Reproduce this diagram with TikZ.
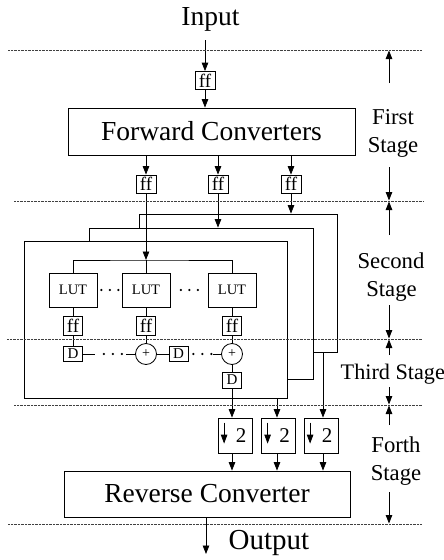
\documentclass[tikz,border=0pt]{standalone}
\usepackage{fontspec}
\setmainfont{Liberation Serif}
\usetikzlibrary{arrows.meta,calc}
\begin{document}
\begin{tikzpicture}[x=1pt,y=-1pt,line width=0.8pt,
  box/.style={draw,fill=white,inner sep=0pt},
  arr/.style={-{Triangle[length=8.5pt,width=6.5pt]}},
  sep/.style={line width=0.8pt,dash pattern=on 0.7pt off 0.7pt,black!75},
  bigf/.style={font=\fontsize{27.5}{30}\selectfont},
  stg/.style={font=\fontsize{22.7}{26}\selectfont,anchor=base},
  fff/.style={box,minimum width=20,minimum height=18,font=\fontsize{19}{19}\selectfont},
  lut/.style={box,minimum width=48,minimum height=34,font=\fontsize{14.5}{16}\selectfont},
  dbox/.style={box,minimum width=19,minimum height=15,font=\fontsize{15}{16}\selectfont},
  sumc/.style={draw,fill=white,circle,minimum size=21,inner sep=0pt,font=\fontsize{14}{16}\selectfont},
  dec/.style={box,minimum width=34,minimum height=35,font=\fontsize{21}{22}\selectfont},
  dotrow/.style={line width=2.4pt,line cap=round,dash pattern=on 0pt off #1},
  dotrow/.default=8.5pt
]
\useasboundingbox (0,0) rectangle (444,560);

% ---- top
\node[bigf,anchor=base] (inp) at (210.5,25) {Input};
\coordinate (inS) at (205,40);
\node[fff] (f0) at (205,80.5) {ff};
\node[box,bigf,minimum width=287,minimum height=47] (fc) at (211.5,131.5) {Forward Converters};
\node[fff] (f1) at (146,184) {ff};
\node[fff] (f2) at (218,184) {ff};
\node[fff] (f3) at (291,184) {ff};

\draw[arr] (inS) -- (f0.north);
\draw[arr] (f0.south) -- (fc.north -| f0);
\draw[arr] (fc.south -| f1) -- (f1.north);
\draw[arr] (fc.south -| f2) -- (f2.north);
\draw[arr] (fc.south -| f3) -- (f3.north);

% ---- stacked channel boxes
\node[box,minimum width=198,minimum height=138] (bk) at (238,283) {};
\node[box,minimum width=224,minimum height=151] (md) at (201,303.5) {};
\node[box,minimum width=263,minimum height=157] (fr) at (155.5,319.5) {};

\coordinate (bus) at (146,260);
\node[lut] (l1) at (73,290) {LUT};
\node[lut] (l2) at (146,290) {LUT};
\node[lut] (l3) at (232,290) {LUT};
\node[fff,minimum width=19,minimum height=19] (g1) at (73,325.5) {ff};
\node[fff,minimum width=19,minimum height=19] (g2) at (146,325.5) {ff};
\node[fff,minimum width=19,minimum height=19] (g3) at (232,325.5) {ff};
\node[dbox] (d1) at (73,354) {D};
\node[sumc] (s1) at (146,354) {+};
\node[dbox] (d2) at (178.5,354) {D};
\node[sumc] (s2) at (232,354) {+};
\node[dbox,minimum height=16] (d3) at (232,380) {D};

\draw[arr] (f1.south) -- (bus);
\draw[arr] (f2.south) -- (md.north -| f2);
\draw[arr] (f3.south) -- (bk.north -| f3);
\draw (l1.north) |- (bus) -| (l3.north);
\draw (l2.north) -- (bus);
\draw[dotrow] ($(l1.east)+(4,0)$) -- ++(17.2,0);
\draw[dotrow] ($(l2.east)+(10.5,0)$) -- ++(17.2,0);
\draw (l1.south) -- (g1.north);
\draw (l2.south) -- (g2.north);
\draw (l3.south) -- (g3.north);
\draw (g1.south) -- (d1.north);
\draw (g2.south) -- (s1.north);
\draw (g3.south) -- (s2.north);
\draw (d1.east) -- ++(12,0);
\draw[dotrow=9pt] ($(d1.east)+(21,0)$) -- ++(18.2,0);
\draw ($(s1.west)+(-9,0)$) -- (s1.west);
\draw (s1.east) -- (d2.west);
\draw[dotrow=9pt] ($(d2.east)+(5,0)$) -- ++(18.2,0);
\draw ($(s2.west)+(-8,0)$) -- (s2.west);
\draw (s2.south) -- (d3.north);

% ---- downsamplers and reverse converter
\coordinate (xa) at (232,0);
\coordinate (xb) at (277,0);
\coordinate (xc) at (323,0);
\node[dec] (q1) at (235,435.5) {\hspace*{12pt}2};
\node[dec] (q2) at (278.5,435.5) {\hspace*{12pt}2};
\node[dec] (q3) at (321,435.5) {\hspace*{12pt}2};
\foreach \q in {q1,q2,q3}
  \draw[-{Triangle[length=9pt,width=6.5pt]}] ($(\q.north west)+(6.5,5)$) -- ($(\q.north west)+(6.5,26)$);
\node[box,bigf,minimum width=286,minimum height=46] (rc) at (207,494) {Reverse Converter};
\coordinate (outE) at (206,554);
\node[bigf,anchor=base west,font=\fontsize{29}{30}\selectfont] (outp) at (225,549) {Output};

\draw[arr] (d3.south) -- (q1.north -| xa);
\draw[arr] (fr.south -| xb) -- (q2.north -| xb);
\draw[arr] (bk.south -| xc) -- (q3.north -| xc);
\draw[arr] (q1.south -| xa) -- (rc.north -| xa);
\draw[arr] (q2.south -| xb) -- (rc.north -| xb);
\draw[arr] (q3.south -| xc) -- (rc.north -| xc);
\draw[arr] (rc.south -| outE) -- (outE);

% ---- stage separators
\draw[sep] (8,50) -- (422,50);
\draw[sep] (14,201) -- (423,201);
\draw[sep] (7,339) -- (422,339);
\draw[sep] (14,405) -- (422,405);
\draw[sep] (8,524) -- (422,524);

% ---- stage markers
\draw[arr] (389,83) -- (389,50.5);
\draw[arr] (389,167) -- (389,200.5);
\draw[arr] (389,235) -- (389,201.5);
\draw[arr] (389,305) -- (389,338.5);
\draw[arr] (389,355) -- (389,339.5);
\draw[arr] (389,387) -- (389,404.5);
\draw[arr] (389,425) -- (389,405.5);
\draw[arr] (389,492) -- (389,523.5);

\node[stg] (st1a) at (393,124) {First};
\node[stg] (st1b) at (393,152) {Stage};
\node[stg] (st2a) at (391,268) {Second};
\node[stg] (st2b) at (391.5,296) {Stage};
\node[stg,anchor=base west,font=\fontsize{22.2}{26}\selectfont] (st3) at (337,379) {Third Stage};
\node[stg] (st4a) at (396,452) {Forth};
\node[stg] (st4b) at (396,480) {Stage};
\end{tikzpicture}
\end{document}
